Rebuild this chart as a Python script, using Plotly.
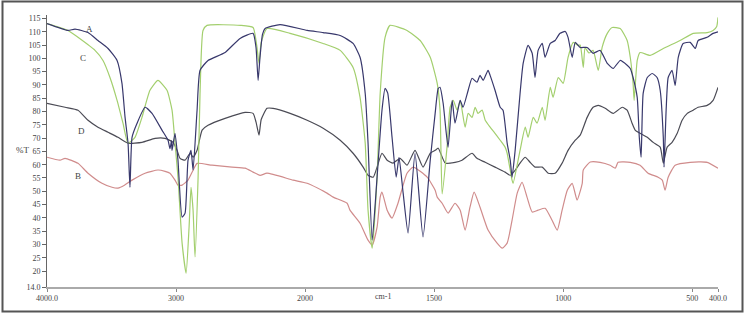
import numpy as np
import plotly.graph_objects as go

# ---- data: wavenumber (cm-1) and %T ----
A_wn = [4000, 3837, 3783, 3682, 3605, 3527, 3457, 3419, 3395, 3372, 3357, 3341, 3302, 3240, 3186, 3109, 3062,
        3047, 3035, 3031, 3008, 2985, 2953, 2930, 2907, 2884, 2868, 2837, 2814, 2752, 2620, 2504, 2403, 2380,
        2364, 2350, 2330, 2310, 2194, 1992, 1930, 1864, 1814, 1787, 1767, 1756, 1740, 1721, 1702, 1690, 1680,
        1663, 1647, 1636, 1620, 1601, 1574, 1543, 1515, 1496, 1484, 1477, 1465, 1446, 1430, 1419, 1399, 1388,
        1368, 1353, 1334, 1322, 1310, 1291, 1283, 1264, 1244, 1233, 1217, 1205, 1198, 1186, 1167, 1155, 1136,
        1120, 1109, 1097, 1081, 1070, 1050, 1031, 1023, 1012, 992, 981, 965, 953, 934, 907, 884, 857, 829, 806,
        779, 752, 740, 729, 713, 705, 698, 690, 674, 655, 636, 624, 612, 609, 601, 593, 578, 566, 554, 535, 508,
        488, 477, 442, 419, 400]
A_T = [113.1, 110.5, 111.0, 109.7, 106.7, 103.7, 99.2, 90.6, 77.8, 68.1, 51.5, 70.3, 75.6, 81.6, 79.3, 73.0, 69.2,
       66.0, 69.0, 65.4, 71.8, 61.7, 40.3, 41.8, 61.7, 65.4, 58.0, 80.5, 95.5, 99.2, 102.2, 107.5, 109.4, 104.0,
       91.7, 100.0, 109.0, 111.2, 112.7, 110.5, 109.7, 108.6, 105.6, 100.4, 86.8, 68.1, 31.6, 55.3, 80.5, 88.7, 87.0,
       70.3, 55.3, 62.8, 49.3, 34.3, 64.3, 32.8, 61.7, 79.3, 88.7, 89.1, 83.1, 66.6, 84.2, 75.6, 84.2, 81.6,
       88.0, 92.5, 91.0, 93.6, 91.7, 95.5, 93.6, 88.0, 81.6, 80.5, 68.1, 61.7, 55.3, 65.4, 86.8, 98.1, 104.9,
       101.9, 92.8, 103.0, 105.6, 100.4, 105.6, 106.7, 107.9, 109.4, 110.1, 107.9, 100.4, 106.0, 104.1, 104.1, 101.9, 103.0, 98.1, 96.2,
       99.2, 97.4, 96.2, 92.8, 85.3, 70.3, 62.8, 86.8, 92.8, 94.3, 92.8, 88.0, 70.3, 59.1, 80.5, 92.8, 95.5, 89.8, 100.4, 105.6, 106.0,
       103.7, 106.7, 107.9, 109.4, 110.0]

C_wn = [4000, 3837, 3760, 3628, 3566, 3512, 3457, 3411, 3372, 3318, 3264, 3202, 3140, 3070, 3031, 3008, 2985,
        2953, 2922, 2899, 2884, 2868, 2853, 2829, 2814, 2791, 2760, 2500, 2403, 2375, 2357, 2340, 2295, 2116,
        1930, 1864, 1814, 1787, 1767, 1756, 1740, 1721, 1709, 1690, 1671, 1605, 1554, 1515, 1488, 1477, 1469,
        1450, 1438, 1426, 1411, 1399, 1380, 1368, 1353, 1341, 1330, 1314, 1302, 1283, 1264, 1244, 1225, 1217,
        1198, 1194, 1167, 1147, 1136, 1116, 1101, 1081, 1070, 1050, 1039, 1019, 1000, 981, 961, 942, 934, 922,
        915, 900, 884, 864, 849, 829, 810, 779, 752, 740, 729, 725, 713, 702, 663, 612, 547, 496, 442, 419, 405, 400]
C_T = [113.1, 110.5, 107.9, 103.0, 99.2, 92.8, 84.2, 75.6, 68.1, 70.3, 77.8, 88.0, 91.7, 88.0, 80.5, 68.1, 55.3,
       30.5, 19.2, 36.5, 51.5, 42.9, 25.3, 55.3, 86.8, 110.5, 112.4, 112.4, 111.6, 105.0, 98.1, 106.0, 111.2, 109.4,
       105.6, 103.0, 96.6, 85.3, 68.1, 42.9, 28.6, 55.3, 86.8, 107.9, 112.4, 110.5, 106.7, 100.4, 90.6, 80.5, 49.0,
       66.6, 81.6, 84.2, 80.5, 84.2, 74.1, 79.3, 77.8, 81.6, 79.3, 80.5, 76.7, 74.1, 71.8, 69.2, 66.6, 64.3,
       54.2, 53.0, 65.4, 74.1, 70.3, 77.8, 75.6, 81.6, 76.7, 89.1, 85.3, 92.8, 90.6, 100.4, 106.0, 104.9, 105.0, 96.6,
       104.0, 102.0, 103.0, 95.5, 104.1, 109.4, 111.6, 111.2, 106.7, 100.4, 90.6, 84.2, 99.2, 102.2, 101.1, 103.7, 106.7, 109.4, 109.7, 110.5, 112.0, 115.4]

D_wn = [4000, 3860, 3760, 3682, 3605, 3527, 3450, 3372, 3264, 3163, 3085, 3023, 2992, 2969, 2930, 2891, 2868,
        2837, 2798, 2752, 2620, 2465, 2403, 2380, 2357, 2340, 2295, 2248, 2116, 1992, 1930, 1864, 1814, 1775,
        1756, 1736, 1721, 1702, 1682, 1659, 1632, 1605, 1574, 1543, 1515, 1496, 1484, 1457, 1419, 1392, 1353,
        1334, 1302, 1264, 1225, 1205, 1186, 1167, 1147, 1128, 1109, 1081, 1058, 1031, 1004, 981, 953, 934, 907,
        884, 864, 837, 806, 771, 752, 733, 721, 702, 674, 651, 624, 612, 597, 578, 558, 539, 519, 496, 477, 442,
        419, 400]
D_T = [83.1, 81.6, 80.5, 76.7, 74.1, 72.2, 70.3, 68.1, 68.4, 69.9, 69.9, 68.4, 65.4, 62.4, 61.7, 64.3, 62.8,
       65.4, 73.0, 74.8, 77.4, 79.7, 79.3, 76.0, 71.1, 77.0, 81.2, 81.2, 79.3, 76.7, 73.7, 69.2, 64.3, 59.1,
       56.0, 55.3, 59.1, 64.3, 61.7, 60.6, 62.4, 59.8, 65.4, 59.1, 64.3, 65.4, 66.2, 60.6, 60.9, 61.7, 64.3,
       62.4, 60.9, 59.1, 57.2, 56.0, 57.9, 60.6, 62.8, 60.9, 59.1, 59.1, 56.8, 56.8, 60.6, 65.4, 69.2, 71.1, 77.8,
       81.6, 82.3, 81.2, 79.3, 81.6, 80.5, 75.6, 73.0, 71.8, 70.3, 68.4, 66.6, 60.6, 66.6, 68.4, 71.8, 76.7, 79.3, 80.5, 81.6, 82.3,
       84.2, 89.1]

B_wn = [4000, 3899, 3860, 3760, 3682, 3574, 3496, 3450, 3400, 3341, 3240, 3140, 3085, 3047, 3008, 2985, 2953,
        2907, 2868, 2837, 2721, 2566, 2465, 2403, 2349, 2295, 2093, 1992, 1915, 1891, 1837, 1826, 1787, 1756,
        1740, 1721, 1709, 1702, 1682, 1663, 1640, 1605, 1581, 1527, 1496, 1488, 1469, 1446, 1419, 1399, 1380,
        1361, 1345, 1322, 1291, 1256, 1236, 1217, 1198, 1178, 1159, 1140, 1120, 1097, 1070, 1043, 1023, 1004,
        984, 965, 946, 926, 922, 895, 857, 818, 798, 787, 740, 702, 671, 632, 616, 605, 593, 566, 508, 442, 400]
B_T = [62.8, 61.7, 62.4, 60.5, 56.8, 53.0, 51.5, 51.2, 52.3, 54.2, 56.8, 58.0, 57.5, 56.8, 54.2, 52.3, 52.3,
       54.2, 57.9, 60.5, 59.8, 59.1, 58.7, 57.2, 56.0, 56.8, 54.2, 53.0, 49.3, 47.8, 45.5, 42.9, 38.0, 31.6,
       29.8, 36.5, 47.8, 49.7, 42.9, 39.9, 45.5, 56.8, 59.1, 55.3, 50.4, 47.8, 45.5, 41.8, 45.5, 42.9, 35.4,
       44.0, 49.7, 44.0, 35.4, 30.5, 28.6, 30.5, 39.1, 49.3, 53.4, 47.8, 42.2, 42.9, 43.6, 39.1, 35.4, 42.9,
       50.4, 53.0, 46.7, 53.0, 58.0, 61.0, 60.9, 59.8, 58.7, 60.9, 60.9, 59.8, 56.8, 55.3, 54.2, 50.4, 55.3, 59.8, 60.9, 60.9, 58.7]

x_ticks = [4000, 3000, 2000, 1500, 1000, 500, 400]
x_ticktext = ["4000.0", "3000", "2000", "1500", "1000", "500", "400.0"]
y_ticks = [14, 20, 25, 30, 35, 40, 45, 50, 55, 60, 65, 70, 75, 80, 85, 90, 95, 100, 105, 110, 115]
y_ticktext = ["14.0"] + [str(v) for v in y_ticks[1:]]

labels = ["A", "C", "D", "B"]
label_wn = [3667, 3721, 3736, 3760]
label_T = [110.9, 100.0, 72.6, 55.7]


def to_u(w):
    """FTIR axis with a scale change at 2000 cm-1 (2x expansion below 2000)."""
    w = np.asarray(w, dtype=float)
    return np.where(w >= 2000, (4000 - w) / 1000.0, 2 + (2000 - w) / 500.0)


fig = go.Figure()
series = [("D", D_wn, D_T, "#4b4b55"),
          ("B", B_wn, B_T, "#d08c8c"),
          ("C", C_wn, C_T, "#a3cf6e"),
          ("A", A_wn, A_T, "#38386c")]
for name, wn, t, col in series:
    fig.add_trace(go.Scatter(x=to_u(wn), y=t, mode="lines", name=name,
                             line=dict(color=col, width=1.2, shape="spline", smoothing=0.5),
                             showlegend=False, hoverinfo="skip"))

serif = "Liberation Serif, Times New Roman, serif"
for lab, w, t in zip(labels, label_wn, label_T):
    fig.add_annotation(x=float(to_u([w])[0]), y=t, text=lab, showarrow=False,
                       font=dict(family=serif, size=9, color="#444"))

L, R, T_, B_ = 47, 28, 15, 27
W, H = 746, 314
pw, ph = W - L - R, H - T_ - B_

def px2paper_x(px):
    return (px - L) / pw

def py2paper_y(py):
    return (H - B_ - py) / ph

fig.add_annotation(x=px2paper_x(14), y=py2paper_y(150), xref="paper", yref="paper", text="%T",
                   showarrow=False, font=dict(family=serif, size=9, color="#444"))
fig.add_annotation(x=px2paper_x(383), y=py2paper_y(303), xref="paper", yref="paper", text="cm-1",
                   showarrow=False, font=dict(family=serif, size=8, color="#444"))

fig.add_shape(type="rect", xref="paper", yref="paper",
              x0=px2paper_x(2.5), x1=px2paper_x(742.5), y0=py2paper_y(311.5), y1=py2paper_y(1.5),
              line=dict(color="#555", width=2), fillcolor="rgba(0,0,0,0)")

fig.update_layout(
    width=W, height=H, margin=dict(l=L, r=R, t=T_, b=B_),
    paper_bgcolor="white", plot_bgcolor="white",
    font=dict(family=serif, size=8, color="#444"),
    xaxis=dict(range=[0, float(to_u([400])[0])], tickvals=to_u(x_ticks).tolist(), ticktext=x_ticktext,
               showgrid=False, zeroline=False, showline=True, linecolor="#aaa", linewidth=1.5,
               ticks="outside", ticklen=3, tickcolor="#888", tickfont=dict(family=serif, size=8, color="#444")),
    yaxis=dict(range=[14, 116.3], tickvals=y_ticks, ticktext=y_ticktext,
               showgrid=False, zeroline=False, showline=True, linecolor="#666", linewidth=1,
               ticks="outside", ticklen=4, tickcolor="#666", tickfont=dict(family=serif, size=8, color="#444")),
)

fig.write_html("out.html", config={"displayModeBar": False})
